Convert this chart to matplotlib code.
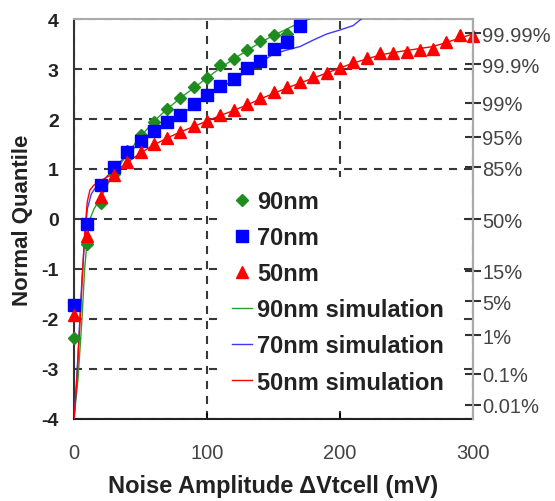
import matplotlib
matplotlib.use("Agg")
import matplotlib.pyplot as plt
from matplotlib.lines import Line2D
from statistics import NormalDist

plt.rcParams['font.family'] = ['Liberation Sans', 'DejaVu Sans']
plt.rcParams['lines.scale_dashes'] = False
plt.rcParams['axes.unicode_minus'] = False

# measured quantiles (every 10 mV)
x90 = [0, 10, 20, 30, 40, 50, 60, 70, 80, 90, 100, 110, 120, 130, 140, 150, 160]
q90 = [-2.38, -0.5, 0.32, 0.9, 1.37, 1.68, 1.94, 2.2, 2.42, 2.64, 2.82, 3.09, 3.2, 3.38, 3.56, 3.68, 3.7]

x70 = [0, 10, 20, 30, 40, 50, 60, 70, 80, 90, 100, 110, 120, 130, 140, 150, 160, 170]
q70 = [-1.72, -0.1, 0.69, 1.05, 1.35, 1.57, 1.77, 1.95, 2.09, 2.3, 2.49, 2.66, 2.81, 3.02, 3.17, 3.4, 3.54, 3.86]

x50 = [0, 10, 20, 30, 40, 50, 60, 70, 80, 90, 100, 110, 120, 130, 140, 150,
       160, 170, 180, 190, 200, 210, 220, 230, 240, 250, 260, 270, 280, 290, 300]
q50 = [-1.92, -0.33, 0.45, 0.89, 1.14, 1.34, 1.5, 1.63, 1.75, 1.86, 1.97, 2.09, 2.18, 2.3, 2.42, 2.54,
       2.64, 2.75, 2.84, 2.93, 3.03, 3.15, 3.22, 3.33, 3.33, 3.35, 3.39, 3.4, 3.55, 3.69, 3.66]

# simulated curves
xs90 = [0, 3, 6, 8, 10, 12, 15, 20, 25, 30, 40, 50, 60, 70, 80, 90, 100, 110, 120, 130, 140, 150, 160, 170, 177]
qs90 = [-4, -3.2, -2.0, -1.0, -0.4, 0.0, 0.2, 0.42, 0.68, 0.9, 1.3, 1.65, 1.95, 2.2, 2.42, 2.62, 2.82,
        3.02, 3.2, 3.37, 3.53, 3.67, 3.8, 3.93, 4.0]

xs70 = [0, 2, 4, 6, 8, 10, 13, 16, 20, 30, 40, 50, 60, 70, 80, 90, 100, 110, 120, 130, 140,
        150, 160, 170, 180, 190, 200, 210, 216]
qs70 = [-4, -3.2, -2.2, -1.2, -0.4, 0.2, 0.5, 0.62, 0.72, 1.0, 1.3, 1.53, 1.75, 1.92, 2.08, 2.27, 2.45,
        2.62, 2.78, 2.95, 3.13, 3.3, 3.38, 3.45, 3.58, 3.7, 3.78, 3.87, 4.0]

xs50 = [0, 2, 4, 6, 8, 10, 12, 15, 20, 30, 40, 50, 60, 70, 80, 90, 100, 110, 120, 130, 140, 150,
        160, 170, 180, 190, 200, 210, 220, 230, 240, 250, 260, 270, 280, 290, 300]
qs50 = [-4, -3.3, -2.3, -1.3, -0.3, 0.35, 0.58, 0.68, 0.76, 0.92, 1.13, 1.32, 1.48, 1.62, 1.74, 1.85,
        1.96, 2.07, 2.17, 2.28, 2.4, 2.51, 2.62, 2.72, 2.82, 2.92, 3.02, 3.12, 3.2, 3.28, 3.33, 3.37,
        3.41, 3.45, 3.53, 3.62, 3.7]

pct_labels = ['99.99%', '99.9%', '99%', '95%', '85%', '50%', '15%', '5%', '1%', '0.1%', '0.01%']
pct_values = [0.9999, 0.999, 0.99, 0.95, 0.85, 0.5, 0.15, 0.05, 0.01, 0.001, 0.0001]

green = '#1e8c1e'
blue = '#0000ff'
red = '#ff0000'

fig = plt.figure(figsize=(5.55, 5.02), dpi=100)
ax = fig.add_axes([74 / 555, 82 / 502, 399 / 555, 400 / 502])

ax.plot(xs90, qs90, color='#2ca02c', lw=1.0, zorder=3)
ax.plot(xs70, qs70, color='#3a3aff', lw=1.0, zorder=3)
ax.plot(xs50, qs50, color=red, lw=1.0, zorder=3)

ax.plot(x90, q90, 'D', color=green, ms=6.5, clip_on=False, zorder=4)
ax.plot(x70, q70, 's', color=blue, ms=8, clip_on=False, zorder=4)
ax.plot(x50, q50, '^', color=red, ms=8.5, clip_on=False, zorder=4)

ax.set_xlim(0, 300)
ax.set_ylim(-4, 4)
ax.set_xticks([0, 100, 200, 300])
ax.set_yticks(range(-4, 5))
ax.set_axisbelow(True)
ax.grid(True, color='#383838', lw=1.5, ls=(0, (5.8, 5.0)))

ax.tick_params(axis='y', length=0, pad=11, labelsize=14)
for t in ax.get_yticklabels():
    t.set_fontweight('bold')
    t.set_color('#222222')
ax.tick_params(axis='x', direction='in', length=4, width=1.2, pad=17, labelsize=14.5,
               labelcolor='#444444')

ax.spines['left'].set_color('#333333')
ax.spines['bottom'].set_color('#222222')
ax.spines['top'].set_color('#aaaaaa')
ax.spines['right'].set_color('#aaaaaa')
for s in ax.spines.values():
    s.set_linewidth(1.5)

ax.set_xlabel('Noise Amplitude ΔVtcell (mV)', fontsize=17, fontweight='bold', va='center',
              color='#222222')
ax.xaxis.set_label_coords(0.5, -0.1675)
ax.set_ylabel('Normal Quantile', fontsize=16, fontweight='bold', va='center', color='#222222')
ax.yaxis.set_label_coords(-0.13, 0.5)

# probability scale on the right
ax2 = ax.twinx()
ax2.set_ylim(-4, 4)
ax2.set_yticks([NormalDist().inv_cdf(p) for p in pct_values])
ax2.set_yticklabels(pct_labels)
ax2.tick_params(axis='y', direction='inout', length=11, width=1.5, color='#333333',
                pad=1, labelsize=14.5, labelcolor='#444444')
for side in ['left', 'top', 'bottom']:
    ax2.spines[side].set_visible(False)
ax2.spines['right'].set_color('#aaaaaa')
ax2.spines['right'].set_linewidth(1.5)

handles = [
    Line2D([], [], ls='none', marker='D', color=green, ms=6.5),
    Line2D([], [], ls='none', marker='s', color=blue, ms=8),
    Line2D([], [], ls='none', marker='^', color=red, ms=8.5),
    Line2D([], [], color='#2ca02c', lw=1.0),
    Line2D([], [], color='#3a3aff', lw=1.0),
    Line2D([], [], color=red, lw=1.0),
]
labels = ['90nm', '70nm', '50nm', '90nm simulation', '70nm simulation', '50nm simulation']
leg = ax2.legend(handles, labels, loc='upper left', bbox_to_anchor=(0.3634, 0.605),
                 frameon=True, facecolor='white', edgecolor='none', framealpha=1,
                 fancybox=False, borderpad=0.55, handlelength=0.85, handletextpad=0.2,
                 labelspacing=0.555, borderaxespad=0,
                 prop={'weight': 'bold', 'size': 17})
for t in leg.get_texts():
    t.set_color('#222222')

fig.savefig('out.png', dpi=100)
